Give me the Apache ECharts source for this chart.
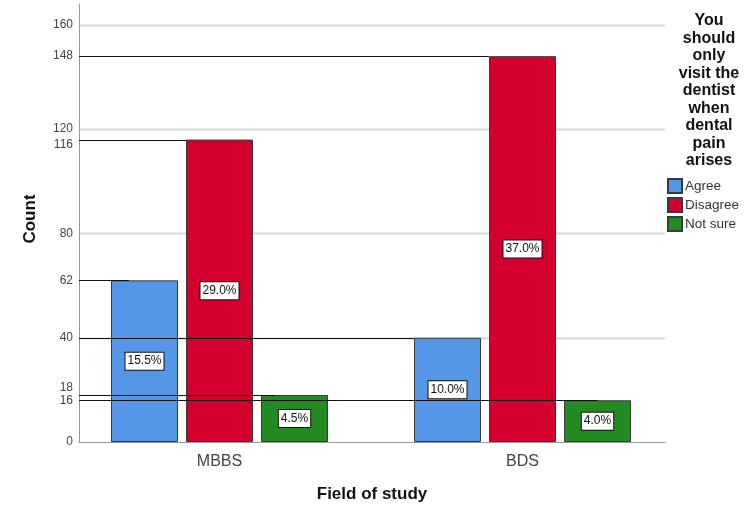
<!DOCTYPE html>
<html><head><meta charset="utf-8">
<script src="https://cdn.jsdelivr.net/npm/echarts@6/dist/echarts.min.js"></script>
<style>html,body{margin:0;padding:0;background:#fff}#c{width:750px;height:520px}</style>
</head><body><div id="c"></div>
<script>
const categories = ['MBBS', 'BDS'];
const seriesNames = ['Agree', 'Disagree', 'Not sure'];
const agreeCounts = [62, 40];
const disagreeCounts = [116, 148];
const notSureCounts = [18, 16];
const agreePct = ['15.5%', '10.0%'];
const disagreePct = ['29.0%', '37.0%'];
const notSurePct = ['4.5%', '4.0%'];
const yTickLabels = [0, 16, 18, 40, 62, 80, 116, 120, 148, 160];
const gridValues = [40, 80, 120, 160];
const refValues = [148, 116, 62, 40, 18, 16];
const refCategory = [1, 0, 0, 1, 0, 1];
const refBar = [1, 1, 0, 0, 2, 2];
const refFrac = [0, 0, 0.27, 0, 0.2, 0.5];

const colors = ['#5596E6', '#D3002E', '#238B21'];
const BAR_W = 67, BAR_GAP = 8;
const AXIS_LEFT = 79;
const FONT = '"Liberation Sans", Arial, sans-serif';
const Y_MAX = 168;

const chart = echarts.init(document.getElementById('c'), null, {renderer: 'canvas'});

function barSeries(name, data, pct, color) {
  return {
    name, type: 'bar', data, xAxisIndex: 1, yAxisIndex: 1,
    barWidth: BAR_W, barGap: (BAR_GAP / BAR_W * 100) + '%', z: 2,
    itemStyle: {color, borderColor: '#3a3a3a', borderWidth: 1},
    label: {
      show: true, position: 'inside', formatter: p => pct[p.dataIndex],
      color: '#111', fontFamily: FONT, fontSize: 12, backgroundColor: '#fff',
      borderColor: '#111', borderWidth: 1, padding: [3, 2, 2, 2]
    },
    emphasis: {disabled: true}
  };
}

const option = {
  animation: false,
  backgroundColor: '#fff',
  title: {
    text: 'You\nshould\nonly\nvisit the\ndentist\nwhen\ndental\npain\narises',
    left: 704, top: 7, textAlign: 'center',
    textStyle: {fontFamily: FONT, fontSize: 16, fontWeight: 'bold', color: '#111', lineHeight: 17.5, align: 'center'}
  },
  legend: {
    orient: 'vertical', left: 667, top: 178, padding: 0, itemWidth: 14, itemHeight: 14, itemGap: 3,
    icon: 'rect', data: seriesNames,
    textStyle: {fontFamily: FONT, fontSize: 13.5, color: '#333', padding: [0, 0, 0, -2]}
  },
  grid: [
    {left: AXIS_LEFT, right: 85, top: 4, bottom: 78, containLabel: false},
    {left: 68, right: 76, top: 4, bottom: 78, containLabel: false}
  ],
  xAxis: [
    {
      type: 'category', data: categories, gridIndex: 0,
      name: 'Field of study', nameLocation: 'middle', nameGap: 44,
      nameTextStyle: {fontFamily: FONT, fontSize: 17, fontWeight: 'bold', color: '#111'},
      axisLine: {lineStyle: {color: '#999', width: 1}},
      axisTick: {show: false},
      axisLabel: {show: false}
    },
    {
      type: 'category', data: categories, gridIndex: 1,
      axisLine: {show: false}, axisTick: {show: false},
      axisLabel: {fontFamily: FONT, fontSize: 16, color: '#444', margin: 12}
    }
  ],
  yAxis: [
    {
      type: 'value', min: 0, max: Y_MAX, interval: 40, gridIndex: 0,
      axisLine: {show: true, lineStyle: {color: '#999', width: 1}},
      axisTick: {show: false},
      splitLine: {show: false},
      axisLabel: {
        customValues: yTickLabels, fontFamily: FONT, fontSize: 12, color: '#444', margin: 6,
        formatter: v => v === 18 ? '{up|18}' : (v === 116 ? '{dn|116}' : String(v)),
        rich: {
          up: {fontFamily: FONT, fontSize: 12, color: '#444', padding: [0, 0, 14, 0]},
          dn: {fontFamily: FONT, fontSize: 12, color: '#444', padding: [10, 0, 0, 0]}
        }
      }
    },
    {
      type: 'value', min: 0, max: Y_MAX, interval: 40, gridIndex: 1, show: false,
      splitLine: {show: false}
    }
  ],
  graphic: [{
    type: 'text', x: 30, y: 219, rotation: Math.PI / 2,
    style: {text: 'Count', fontFamily: FONT, fontSize: 17, fontWeight: 'bold', fill: '#111', textAlign: 'center', textVerticalAlign: 'middle'}
  }],
  series: [
    {
      type: 'custom', name: 'grid', z: 1, silent: true, xAxisIndex: 0, yAxisIndex: 0,
      data: gridValues.map(v => [0, v]),
      renderItem: (params, api) => {
        const cs = params.coordSys;
        const y = Math.round(api.coord([0, api.value(1)])[1]) + 0.5;
        return {type: 'line', shape: {x1: cs.x + 1, y1: y, x2: cs.x + cs.width, y2: y}, style: {stroke: '#d8d8d8', lineWidth: 2}};
      }
    },
    barSeries('Agree', agreeCounts, agreePct, colors[0]),
    barSeries('Disagree', disagreeCounts, disagreePct, colors[1]),
    barSeries('Not sure', notSureCounts, notSurePct, colors[2]),
    {
      type: 'custom', name: 'ref', z: 5, silent: true, xAxisIndex: 1, yAxisIndex: 1,
      data: refValues.map((v, i) => [refCategory[i], v, refBar[i], refFrac[i]]),
      renderItem: (params, api) => {
        const c = api.coord([api.value(0), api.value(1)]);
        const y = Math.round(c[1]) + 0.5;
        const j = api.value(2);
        const left = c[0] + (j - 1) * (BAR_W + BAR_GAP) - BAR_W / 2;
        const xEnd = left + api.value(3) * BAR_W;
        return {type: 'line', shape: {x1: AXIS_LEFT, y1: y, x2: xEnd, y2: y}, style: {stroke: '#111', lineWidth: 1}};
      }
    }
  ]
};
chart.setOption(option);
</script>
</body></html>
